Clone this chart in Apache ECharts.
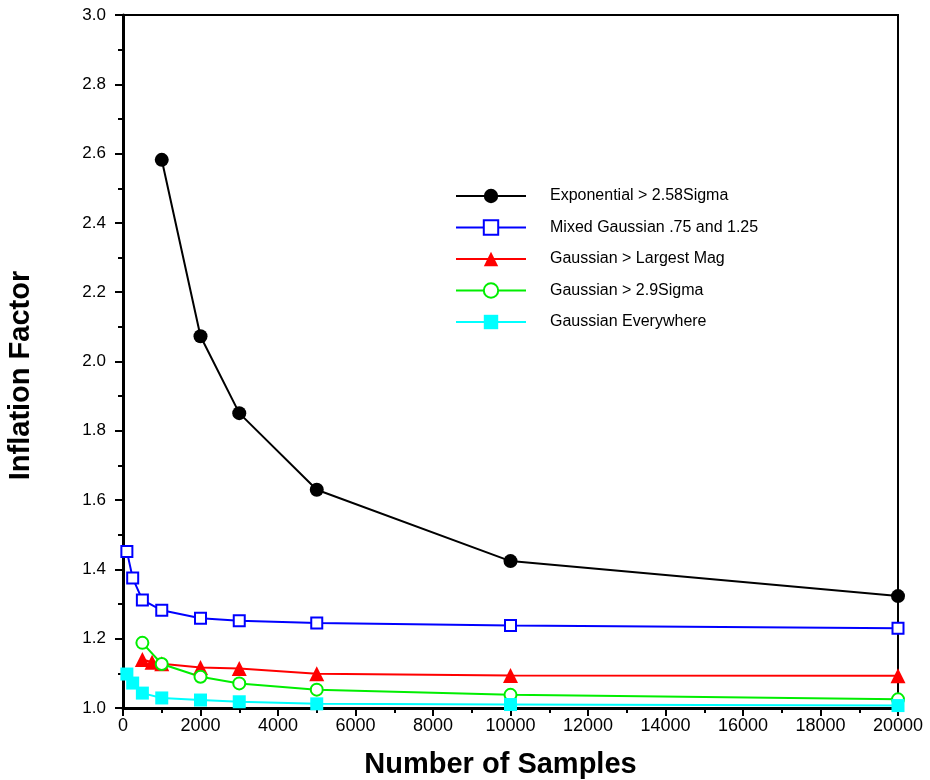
<!DOCTYPE html>
<html>
<head>
<meta charset="utf-8">
<script src="https://cdn.jsdelivr.net/npm/echarts@6/dist/echarts.min.js"></script>
<style>html,body{margin:0;padding:0;background:#fff}#c{width:930px;height:780px}</style>
</head>
<body>
<div id="c"></div>
<script>
// Data
const expX = [1000, 2000, 3000, 5000, 10000, 20000];
const expY = [2.582, 2.073, 1.851, 1.630, 1.424, 1.323];
const mixX = [100, 250, 500, 1000, 2000, 3000, 5000, 10000, 20000];
const mixY = [1.452, 1.375, 1.312, 1.282, 1.259, 1.252, 1.245, 1.238, 1.230];
const largX = [500, 750, 1000, 2000, 3000, 5000, 10000, 20000];
const largY = [1.140, 1.132, 1.128, 1.117, 1.114, 1.099, 1.094, 1.093];
const sigX = [500, 1000, 2000, 3000, 5000, 10000, 20000];
const sigY = [1.188, 1.127, 1.090, 1.071, 1.053, 1.038, 1.025];
const allX = [100, 250, 500, 1000, 2000, 3000, 5000, 10000, 20000];
const allY = [1.098, 1.072, 1.043, 1.029, 1.023, 1.018, 1.012, 1.010, 1.007];
const seriesNames = ['Exponential > 2.58Sigma', 'Mixed Gaussian .75 and 1.25', 'Gaussian > Largest Mag', 'Gaussian > 2.9Sigma', 'Gaussian Everywhere'];

const zip = (xs, ys) => xs.map((x, i) => [x, ys[i]]);
const chart = echarts.init(document.getElementById('c'), null, {renderer: 'canvas'});
const font = 'Liberation Sans, Arial, Helvetica, sans-serif';

function mk(name, xs, ys, color, symbol, size, filled) {
  return {
    name, type: 'line', data: zip(xs, ys), symbol, symbolSize: size,
    showAllSymbol: true,
    lineStyle: {color, width: 2},
    itemStyle: {color: filled ? color : '#fff', borderColor: color, borderWidth: filled ? 0 : 2},
    emphasis: {disabled: true},
    z: 3
  };
}

chart.setOption({
  animation: false,
  backgroundColor: '#fff',
  textStyle: {fontFamily: font},
  grid: {left: 123, right: 32, top: 15, bottom: 72, outerBoundsMode: 'none', containLabel: false,
         show: true, borderColor: '#000', borderWidth: 2, backgroundColor: 'transparent'},
  legend: {
    orient: 'vertical', left: 450, top: 182, itemWidth: 70, itemHeight: 18, itemGap: 13.5,
    textStyle: {fontSize: 16, color: '#000', fontFamily: font, padding: [0, 0, 0, 19], lineHeight: 18},
    data: seriesNames
  },
  xAxis: {
    type: 'value', min: 0, max: 20000, interval: 2000,
    name: 'Number of Samples', nameLocation: 'middle', nameGap: 42,
    nameTextStyle: {fontSize: 29, fontWeight: 'bold', color: '#000', fontFamily: font, padding: [0, 20, 0, 0]},
    axisLine: {onZero: false, lineStyle: {color: '#000', width: 3}},
    axisTick: {show: true, length: 8, inside: false, lineStyle: {color: '#000', width: 2}},
    minorTick: {show: true, splitNumber: 2, length: 5, lineStyle: {color: '#000', width: 2}},
    axisLabel: {fontSize: 18, color: '#000', margin: 9, fontFamily: font, formatter: v => String(v)},
    splitLine: {show: false}
  },
  yAxis: {
    type: 'value', min: 1.0, max: 3.0, interval: 0.2,
    name: 'Inflation Factor', nameLocation: 'middle', nameGap: 88,
    nameTextStyle: {fontSize: 29, fontWeight: 'bold', color: '#000', fontFamily: font, padding: [0, 28, 0, 0]},
    axisLine: {onZero: false, lineStyle: {color: '#000', width: 3}},
    axisTick: {show: true, length: 8, lineStyle: {color: '#000', width: 2}},
    minorTick: {show: true, splitNumber: 2, length: 5, lineStyle: {color: '#000', width: 2}},
    axisLabel: {fontSize: 17, color: '#000', margin: 17, fontFamily: font, formatter: v => v.toFixed(1)},
    splitLine: {show: false}
  },
  series: [
    mk(seriesNames[0], expX, expY, '#000000', 'circle', 14, true),
    mk(seriesNames[1], mixX, mixY, '#0000ff', 'rect', 11, false),
    mk(seriesNames[2], largX, largY, '#ff0000', 'triangle', 15, true),
    mk(seriesNames[3], sigX, sigY, '#00ee00', 'circle', 12, false),
    mk(seriesNames[4], allX, allY, '#00ffff', 'rect', 13, true)
  ]
});
</script>
</body>
</html>
